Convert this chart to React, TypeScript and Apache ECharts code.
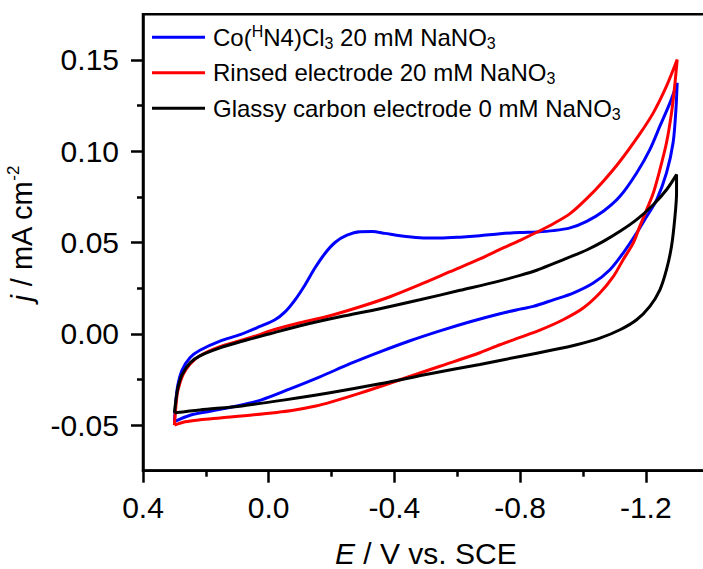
import React, { useEffect, useRef } from "react";
import * as echarts from "echarts";

const FONT = "'Liberation Sans', Arial, sans-serif";

const seriesNames = [
  "Co(HN4)Cl3 20 mM NaNO3",
  "Rinsed electrode 20 mM NaNO3",
  "Glassy carbon electrode 0 mM NaNO3",
];
const seriesColors = ["#0000FF", "#FF0000", "#000000"];
const legendLabels = [
  "{t|Co(}{sup|H}{t|N4)Cl}{sub|3}{t| 20 mM NaNO}{sub|3}",
  "{t|Rinsed electrode 20 mM NaNO}{sub|3}",
  "{t|Glassy carbon electrode 0 mM NaNO}{sub|3}",
];

const xMajorTicks = [0.4, 0.0, -0.4, -0.8, -1.2];
const xMinorTicks = [0.2, -0.2, -0.6, -1.0];
const yMajorTicks = [-0.05, 0, 0.05, 0.1, 0.15];
const yMinorTicks = [-0.025, 0.025, 0.075, 0.125];

// [E (V vs. SCE), j (mA cm^-2)]
const coComplex: [number, number][] = [
  [0.3, -0.0481], [0.295, -0.036], [0.289, -0.028], [0.276, -0.02], [0.25, -0.013],
  [0.219, -0.009], [0.155, -0.004], [0.091, -0.0005], [0.028, 0.004], [-0.02, 0.0077],
  [-0.052, 0.012], [-0.084, 0.0186], [-0.116, 0.0269], [-0.147, 0.036], [-0.179, 0.044],
  [-0.211, 0.05], [-0.249, 0.054], [-0.291, 0.0559], [-0.329, 0.056], [-0.37, 0.055],
  [-0.418, 0.0537], [-0.481, 0.0526], [-0.545, 0.0524], [-0.609, 0.0529], [-0.672, 0.0537],
  [-0.736, 0.0548], [-0.8, 0.0555], [-0.853, 0.0558], [-0.906, 0.0565], [-0.959, 0.058],
  [-1.012, 0.0616], [-1.065, 0.0671], [-1.118, 0.0753], [-1.171, 0.0881], [-1.213, 0.1009],
  [-1.245, 0.1137], [-1.277, 0.1265], [-1.3, 0.1374],
  [-1.296, 0.1228], [-1.287, 0.1046], [-1.266, 0.0881], [-1.235, 0.0735], [-1.203, 0.0643],
  [-1.171, 0.0552], [-1.128, 0.0442], [-1.086, 0.0351], [-1.033, 0.0278], [-0.969, 0.0223],
  [-0.906, 0.0186], [-0.842, 0.015], [-0.8, 0.0135], [-0.736, 0.011], [-0.641, 0.0066],
  [-0.545, 0.0016], [-0.45, -0.0038], [-0.354, -0.0099], [-0.259, -0.0164], [-0.163, -0.0236],
  [-0.068, -0.0302], [0.023, -0.0362], [0.1085, -0.0398], [0.187, -0.0424], [0.25, -0.0446],
  [0.3, -0.0481],
];

const rinsed: [number, number][] = [
  [0.3, -0.05], [0.295, -0.039], [0.289, -0.031], [0.273, -0.0225], [0.25, -0.0165],
  [0.219, -0.012], [0.155, -0.007], [0.091, -0.0038], [0.028, -0.0005], [-0.004, 0.0016],
  [-0.1, 0.006], [-0.195, 0.0099], [-0.291, 0.0148], [-0.386, 0.0203], [-0.481, 0.0269],
  [-0.577, 0.034], [-0.672, 0.041], [-0.736, 0.0462], [-0.8, 0.0512], [-0.853, 0.0556],
  [-0.906, 0.0603], [-0.959, 0.0658], [-1.012, 0.074], [-1.065, 0.0836], [-1.118, 0.0945],
  [-1.181, 0.1095], [-1.224, 0.121], [-1.266, 0.1356], [-1.3, 0.1502],
  [-1.292, 0.1356], [-1.282, 0.121], [-1.266, 0.1046], [-1.245, 0.0899], [-1.224, 0.0771],
  [-1.203, 0.068], [-1.181, 0.0588], [-1.16, 0.0497], [-1.128, 0.0406], [-1.097, 0.0314],
  [-1.054, 0.0223], [-1.001, 0.0141], [-0.937, 0.0077], [-0.863, 0.002], [-0.8, -0.002],
  [-0.736, -0.006], [-0.672, -0.0104], [-0.545, -0.0178], [-0.418, -0.0252], [-0.291, -0.0325],
  [-0.2, -0.0373], [-0.15, -0.0396], [-0.074, -0.042], [0.047, -0.0444], [0.155, -0.0461],
  [0.219, -0.0471], [0.266, -0.0482], [0.3, -0.05],
];

const glassy: [number, number][] = [
  [0.3, -0.0433], [0.295, -0.036], [0.289, -0.0296], [0.276, -0.0225], [0.25, -0.0159],
  [0.219, -0.0121], [0.155, -0.0077], [0.091, -0.0044], [-0.004, 0.0], [-0.1, 0.0044],
  [-0.227, 0.0093], [-0.354, 0.0137], [-0.481, 0.0186], [-0.609, 0.0238], [-0.736, 0.029],
  [-0.8, 0.032], [-0.853, 0.0348], [-0.906, 0.0384], [-0.959, 0.0421], [-1.012, 0.0459],
  [-1.065, 0.0506], [-1.118, 0.0561], [-1.171, 0.0625], [-1.224, 0.0707], [-1.266, 0.0789],
  [-1.298, 0.0872],
  [-1.298, 0.0771], [-1.292, 0.0625], [-1.282, 0.0479], [-1.266, 0.0351], [-1.245, 0.0241],
  [-1.213, 0.015], [-1.171, 0.0077], [-1.118, 0.0022], [-1.054, -0.0024], [-0.98, -0.006],
  [-0.906, -0.0088], [-0.8, -0.0124], [-0.672, -0.0168], [-0.513, -0.0219], [-0.354, -0.0274],
  [-0.195, -0.0323], [-0.052, -0.0362], [0.085, -0.0395], [0.219, -0.0417], [0.3, -0.0433],
];

const allData = [coComplex, rinsed, glassy];

export default function App() {
  const ref = useRef<HTMLDivElement>(null);
  useEffect(() => {
    if (!ref.current) return;
    const chart = echarts.init(ref.current, null, { renderer: "svg" });
    const axisLine = { show: true, onZero: false, lineStyle: { color: "#000", width: 2.5 } };
    const option: any = {
      animation: false,
      backgroundColor: "#fff",
      grid: {
        left: 143,
        top: 14.3,
        width: 565.6,
        height: 456.4,
        show: true,
        borderColor: "#000",
        borderWidth: 2.5,
        backgroundColor: "transparent",
        containLabel: false,
        outerBoundsMode: "none",
      },
      legend: {
        orient: "vertical",
        left: 152,
        top: 23.3,
        padding: 0,
        itemGap: 7.5,
        itemWidth: 53,
        itemHeight: 3,
        icon: "rect",
        selectedMode: false,
        data: seriesNames,
        formatter: (name: string) => legendLabels[seriesNames.indexOf(name)],
        textStyle: {
          fontFamily: FONT,
          fontSize: 24,
          color: "#000",
          padding: [0, 0, 0, 3],
          rich: {
            t: { fontFamily: FONT, fontSize: 24, lineHeight: 30, color: "#000" },
            sup: { fontFamily: FONT, fontSize: 16, lineHeight: 16, padding: [0, 0, 11, 0], color: "#000" },
            sub: { fontFamily: FONT, fontSize: 16, lineHeight: 16, padding: [12, 0, 0, 0], color: "#000" },
          },
        },
      },
      xAxis: [
        {
          type: "value",
          min: -1.4,
          max: 0.4,
          inverse: true,
          position: "bottom",
          name: "{i|E}{t| / V vs. SCE}",
          nameLocation: "middle",
          nameGap: 70,
          nameTextStyle: {
            fontFamily: FONT,
            fontSize: 30,
            color: "#000",
            rich: {
              i: { fontFamily: FONT, fontSize: 30, fontStyle: "italic", lineHeight: 26, color: "#000" },
              t: { fontFamily: FONT, fontSize: 30, lineHeight: 26, color: "#000" },
            },
          },
          axisLine,
          axisTick: {
            show: true,
            customValues: xMajorTicks,
            length: 12,
            lineStyle: { color: "#000", width: 2.5 },
          },
          axisLabel: {
            customValues: xMajorTicks,
            margin: 22,
            fontFamily: FONT,
            fontSize: 30,
            color: "#000",
            formatter: (v: number) => v.toFixed(1),
          },
          splitLine: { show: false },
        },
        {
          type: "value",
          min: -1.4,
          max: 0.4,
          inverse: true,
          position: "bottom",
          offset: 0,
          axisLine: { show: false, onZero: false },
          axisTick: {
            show: true,
            customValues: xMinorTicks,
            length: 6,
            lineStyle: { color: "#000", width: 2.5 },
          },
          axisLabel: { show: false },
          splitLine: { show: false },
        },
      ],
      yAxis: [
        {
          type: "value",
          min: -0.075,
          max: 0.175,
          position: "left",
          name: "{i|j}{t| / mA cm}{sup|-2}",
          nameLocation: "middle",
          nameRotate: 90,
          nameGap: 89,
          nameTextStyle: {
            fontFamily: FONT,
            fontSize: 29,
            color: "#000",
            padding: [0, 0, 0, 18],
            rich: {
              i: { fontFamily: FONT, fontSize: 29, fontStyle: "italic", lineHeight: 30, color: "#000" },
              t: { fontFamily: FONT, fontSize: 29, lineHeight: 30, color: "#000" },
              sup: { fontFamily: FONT, fontSize: 17, lineHeight: 17, padding: [0, 0, 18, 0], color: "#000" },
            },
          },
          axisLine,
          axisTick: {
            show: true,
            customValues: yMajorTicks,
            length: 12,
            lineStyle: { color: "#000", width: 2.5 },
          },
          axisLabel: {
            customValues: yMajorTicks,
            margin: 24,
            fontFamily: FONT,
            fontSize: 30,
            color: "#000",
            formatter: (v: number) => v.toFixed(2),
          },
          splitLine: { show: false },
        },
        {
          type: "value",
          min: -0.075,
          max: 0.175,
          position: "left",
          offset: 0,
          axisLine: { show: false, onZero: false },
          axisTick: {
            show: true,
            customValues: yMinorTicks,
            length: 6,
            lineStyle: { color: "#000", width: 2.5 },
          },
          axisLabel: { show: false },
          splitLine: { show: false },
        },
      ],
      series: allData.map((d, i) => ({
        name: seriesNames[i],
        type: "line",
        xAxisIndex: 0,
        yAxisIndex: 0,
        data: d,
        showSymbol: false,
        symbol: "none",
        smooth: 0.3,
        color: seriesColors[i],
        lineStyle: { color: seriesColors[i], width: 3 },
        emphasis: { disabled: true },
      })),
    };
    chart.setOption(option);
    return () => chart.dispose();
  }, []);
  return (
    <div
      ref={ref}
      style={{ position: "fixed", left: 0, top: 0, width: 703, height: 569, background: "#fff" }}
    />
  );
}
